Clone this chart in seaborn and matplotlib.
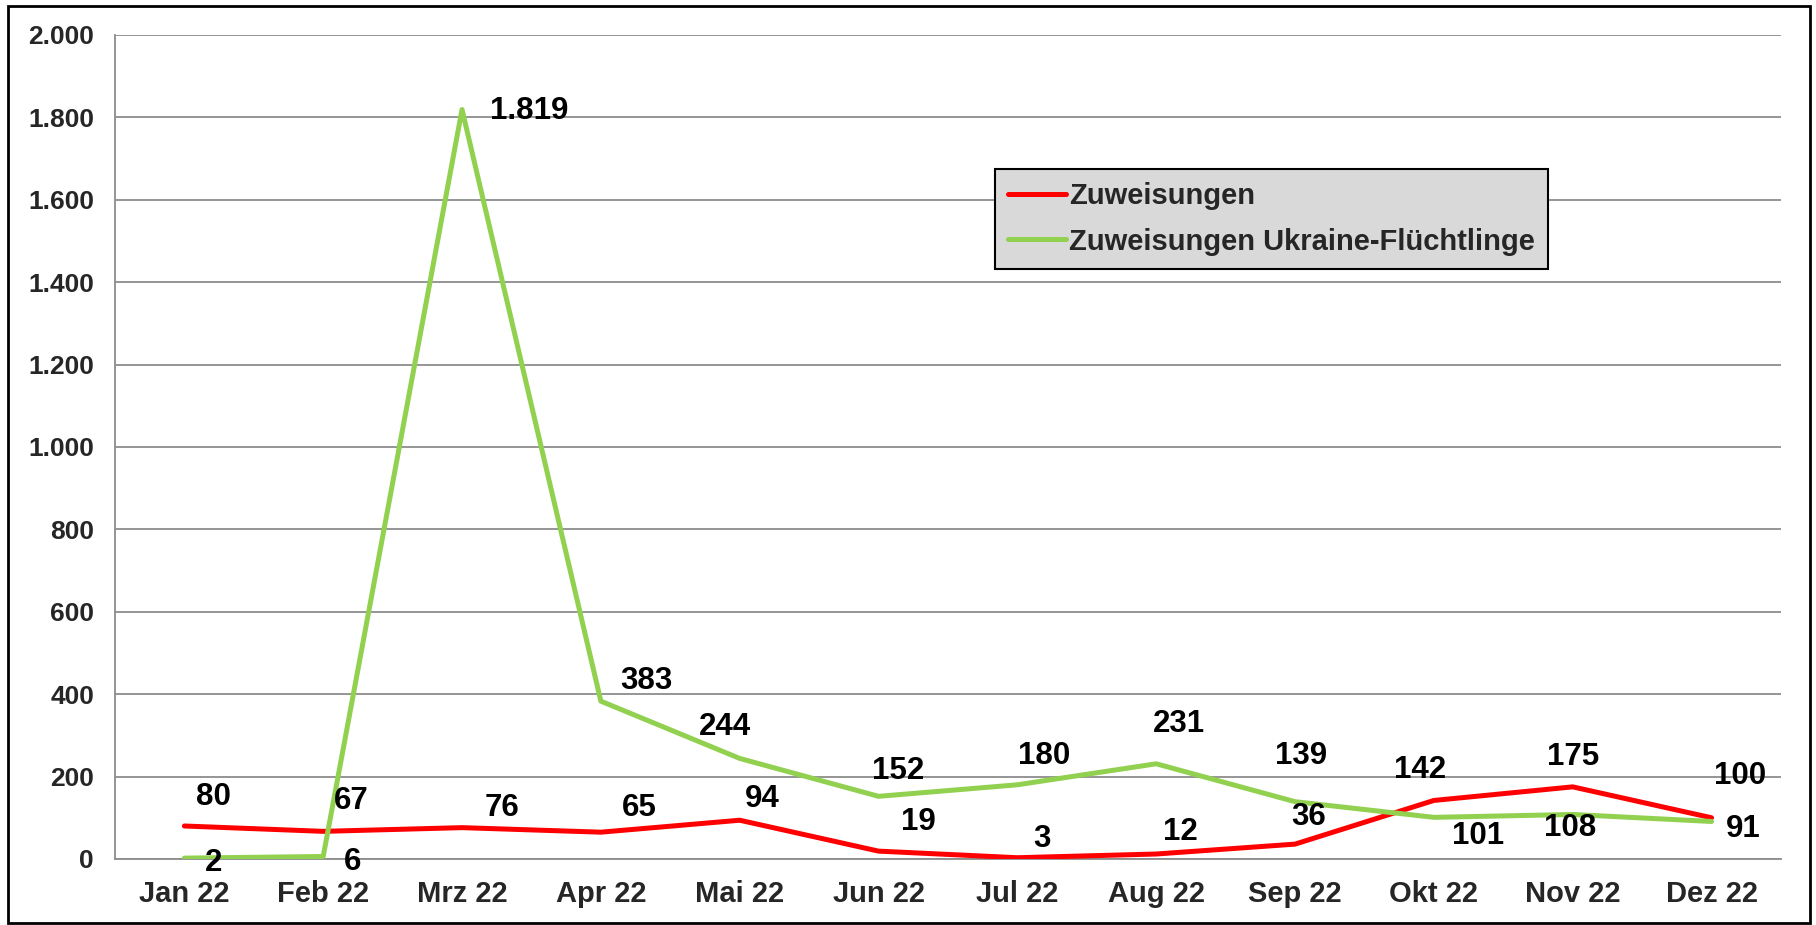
import matplotlib
matplotlib.use("Agg")
import matplotlib.pyplot as plt
import matplotlib.ticker as mticker
from matplotlib.patches import Rectangle
import seaborn as sns
import pandas as pd

months = ["Jan 22", "Feb 22", "Mrz 22", "Apr 22", "Mai 22", "Jun 22",
          "Jul 22", "Aug 22", "Sep 22", "Okt 22", "Nov 22", "Dez 22"]
zuweisungen = [80, 67, 76, 65, 94, 19, 3, 12, 36, 142, 175, 100]
ukraine = [2, 6, 1819, 383, 244, 152, 180, 231, 139, 101, 108, 91]
series_names = ["Zuweisungen", "Zuweisungen Ukraine-Flüchtlinge"]
y_ticks = [0, 200, 400, 600, 800, 1000, 1200, 1400, 1600, 1800, 2000]

# label offsets in pixels (dx, dy upward)
red_off = [(29, 29), (28, 30), (40, 20), (38, 24), (23, 21), (40, 29),
           (25, 19), (24, 22), (14, 27), (-14, 30), (0, 30), (29, 42)]
green_off = [(29, -5), (29, -6), (67, -1), (46, 20), (-15, 31), (20, 25),
             (27, 29), (23, 40), (6, 46), (44, -19), (-3, -14), (32, -8)]

sns.set_theme(style="white")
plt.rcParams['font.family'] = ['Liberation Sans', 'DejaVu Sans']
plt.rcParams['font.weight'] = 'bold'

df = pd.DataFrame({
    "Monat": months * 2,
    "Wert": zuweisungen + ukraine,
    "Serie": [series_names[0]] * 12 + [series_names[1]] * 12,
})

fig = plt.figure(figsize=(18.16, 9.25), dpi=100)
ax = fig.add_axes([0.0633, 0.0714, 0.9174, 0.8908])

sns.lineplot(data=df, x="Monat", y="Wert", hue="Serie", sort=False,
             palette={series_names[0]: "#ff0000", series_names[1]: "#92d050"},
             linewidth=3.6, ax=ax, zorder=3)

ax.set_xlim(-0.5, 11.5)
ax.set_ylim(0, 2000)
ax.set_yticks(y_ticks)
ax.yaxis.set_major_formatter(mticker.FuncFormatter(
    lambda v, p: f"{int(v):,}".replace(",", ".")))
ax.grid(axis="y", color="#8c8c8c", linewidth=1.3)
ax.grid(axis="x", visible=False)
ax.set_xlabel("")
ax.set_ylabel("")
for s in ["top", "right"]:
    ax.spines[s].set_visible(False)
for s in ["left", "bottom"]:
    ax.spines[s].set_color("#8c8c8c")
    ax.spines[s].set_linewidth(1.3)
ax.tick_params(axis="both", length=0)
ax.tick_params(axis="y", pad=15, labelsize=19)
ax.tick_params(axis="x", pad=15, labelsize=21)
for lbl in ax.get_xticklabels() + ax.get_yticklabels():
    lbl.set_fontweight("bold")

def fmt(v):
    return f"{v:,}".replace(",", ".")

for i, (v, off) in enumerate(zip(zuweisungen, red_off)):
    ax.annotate(fmt(v), (i, v), xytext=off, textcoords="offset pixels",
                ha="center", va="center", fontsize=22.5, fontweight="bold",
                color="black", zorder=4)
for i, (v, off) in enumerate(zip(ukraine, green_off)):
    ax.annotate(fmt(v), (i, v), xytext=off, textcoords="offset pixels",
                ha="center", va="center", fontsize=22.5, fontweight="bold",
                color="black", zorder=4)

leg = ax.legend(loc="upper left", bbox_to_anchor=(995 / 1816, 1 - 169 / 925),
                bbox_transform=fig.transFigure, fontsize=21, frameon=True,
                fancybox=False, facecolor="#d9d9d9", edgecolor="black",
                framealpha=1, handlelength=2.0, handletextpad=0.1,
                borderpad=0.45, labelspacing=0.6, borderaxespad=0)
leg.get_frame().set_linewidth(1.5)
for t in leg.get_texts():
    t.set_fontweight("bold")
for h in leg.get_lines():
    h.set_linewidth(3.6)

fig.patches.append(Rectangle((8 / 1816, 2 / 925), 1802 / 1816, 917 / 925,
                             transform=fig.transFigure, fill=False,
                             edgecolor="black", linewidth=2))

fig.savefig("out.png", dpi=100)
